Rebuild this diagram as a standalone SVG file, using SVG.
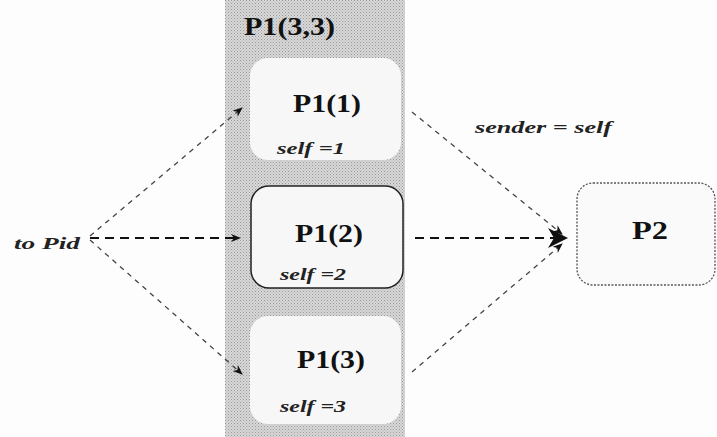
<svg xmlns="http://www.w3.org/2000/svg" width="717" height="437" viewBox="0 0 717 437">
<style>
.title{font-family:"Liberation Serif",serif;font-weight:bold;font-size:25px;fill:#111}
.lbl{font-family:"Liberation Serif",serif;font-style:italic;font-weight:bold;font-size:17px;fill:#222}
.box{fill:#f7f7f7}
.thin{stroke:#444;stroke-width:1.3;stroke-dasharray:5 5;fill:none}
.thick{stroke:#111;stroke-width:2.2;stroke-dasharray:9 6;fill:none}
</style>
<defs>
<pattern id="dots" width="3" height="3" patternUnits="userSpaceOnUse">
<rect width="3" height="3" fill="#d8d8d8"/>
<rect width="1" height="1" fill="#999"/>
<rect x="1.5" y="1.5" width="1" height="1" fill="#aaa"/>
</pattern>
<marker id="ah" viewBox="0 0 10 10" refX="9" refY="5" markerWidth="10" markerHeight="10" markerUnits="userSpaceOnUse" orient="auto">
<path d="M0,1 L10,5 L0,9 L3,5 Z" fill="#111"/>
</marker>
<marker id="ahb" viewBox="0 0 10 10" refX="9" refY="5" markerWidth="20" markerHeight="20" markerUnits="userSpaceOnUse" orient="auto">
<path d="M0,0 L10,5 L0,10 L3,5 Z" fill="#111"/>
</marker>
</defs>
<rect width="717" height="437" fill="#fdfdfd"/>
<g id="P1_3_3">
<rect x="225" y="0" width="180" height="437" fill="url(#dots)"/>
<text class="title" x="244" y="35" textLength="91" lengthAdjust="spacingAndGlyphs">P1(3,3)</text>
</g>
<g id="P1_1">
<rect class="box" x="250" y="58" width="151" height="102" rx="18"/>
<text class="title" x="293" y="112" textLength="68" lengthAdjust="spacingAndGlyphs">P1(1)</text>
<text class="lbl" x="277" y="154" textLength="68" lengthAdjust="spacingAndGlyphs">self =1</text>
</g>
<g id="P1_2">
<rect class="box" x="251" y="186" width="152" height="102" rx="18" stroke="#222" stroke-width="1.5"/>
<text class="title" x="295" y="242" textLength="68" lengthAdjust="spacingAndGlyphs">P1(2)</text>
<text class="lbl" x="280" y="280" textLength="66" lengthAdjust="spacingAndGlyphs">self =2</text>
</g>
<g id="P1_3">
<rect class="box" x="250" y="316" width="151" height="108" rx="18"/>
<text class="title" x="297" y="368" textLength="68" lengthAdjust="spacingAndGlyphs">P1(3)</text>
<text class="lbl" x="280" y="412" textLength="66" lengthAdjust="spacingAndGlyphs">self =3</text>
</g>
<g id="P2">
<rect x="577" y="183" width="138" height="102" rx="16" fill="#fafafa" stroke="#555" stroke-width="1.3" stroke-dasharray="2 1.5"/>
<text class="title" x="632" y="239" textLength="36" lengthAdjust="spacingAndGlyphs">P2</text>
</g>
<g id="toPid">
<text class="lbl" x="14" y="249" textLength="66" lengthAdjust="spacingAndGlyphs">to Pid</text>
</g>
<g id="connectors">
<line class="thin" x1="90" y1="236" x2="242" y2="108" marker-end="url(#ah)"/>
<line class="thick" x1="90" y1="238" x2="240" y2="238" marker-end="url(#ah)"/>
<line class="thin" x1="90" y1="240" x2="242" y2="374" marker-end="url(#ah)"/>
<line class="thin" x1="412" y1="112" x2="562" y2="234" marker-end="url(#ah)"/>
<line class="thick" x1="415" y1="238" x2="566" y2="238" marker-end="url(#ahb)"/>
<line class="thin" x1="412" y1="372" x2="562" y2="244" marker-end="url(#ah)"/>
<text class="lbl" x="475" y="133" textLength="137" lengthAdjust="spacingAndGlyphs">sender = self</text>
</g>
</svg>
